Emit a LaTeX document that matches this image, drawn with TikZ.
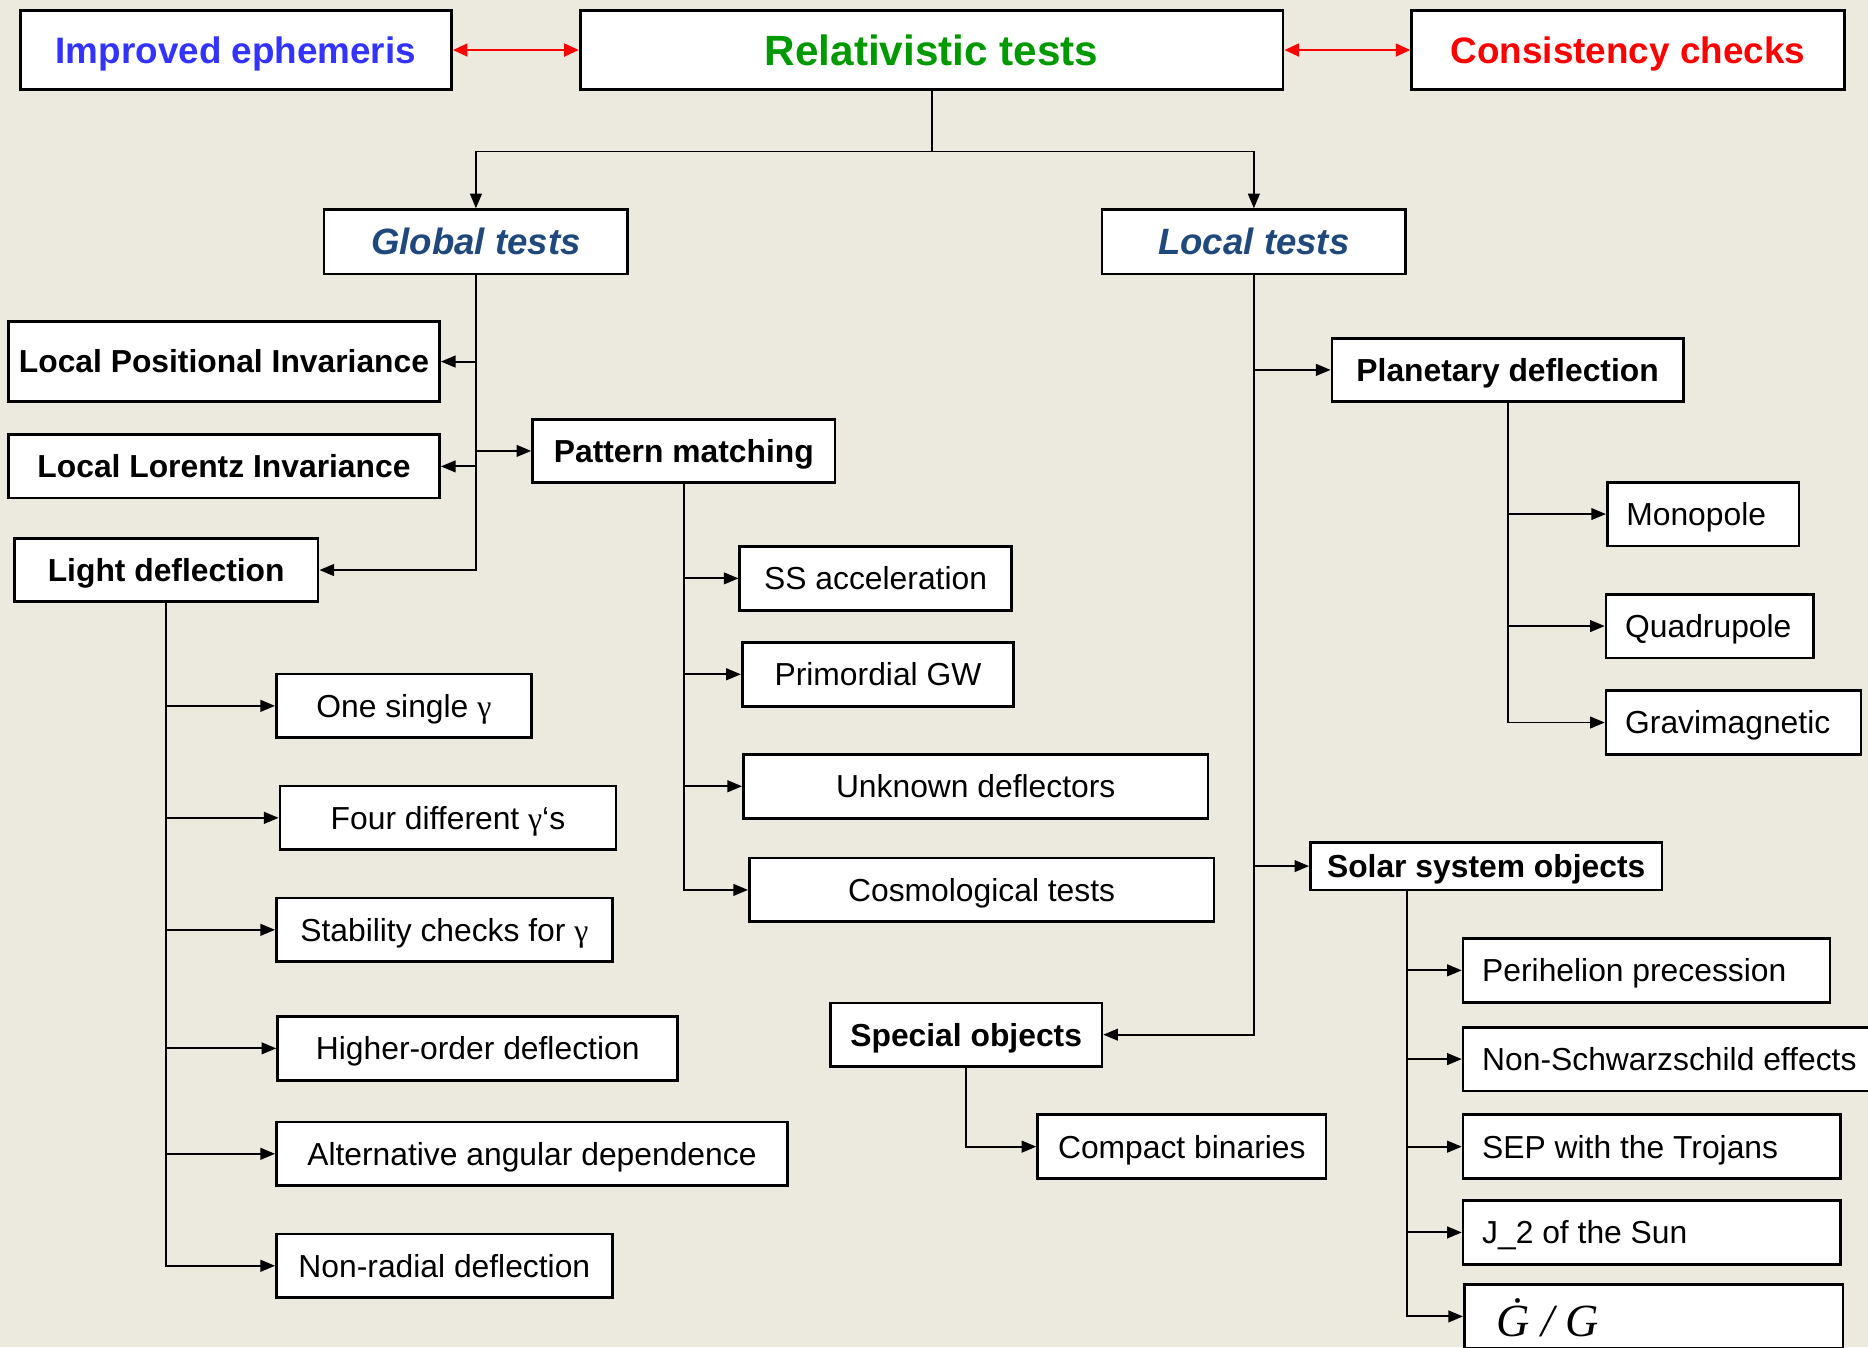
\documentclass[tikz,border=0pt]{standalone}
\usepackage{fontspec}
\setmainfont{Liberation Sans}
\newfontfamily\grk{Liberation Serif}
\usepackage{xcolor}
\usepackage{tikz}
\usetikzlibrary{arrows.meta}
\definecolor{paper}{RGB}{236,234,223}
\definecolor{ephblue}{RGB}{51,51,255}
\definecolor{relgreen}{RGB}{0,153,0}
\definecolor{chkred}{RGB}{255,0,0}
\definecolor{testblue}{RGB}{31,73,125}

\begin{document}
\begin{tikzpicture}[x=0.02cm, y=-0.02cm,
    box/.style={draw, line width=1.3pt, fill=white, inner sep=0pt,
        minimum height=1.07cm, text height=10.9pt, text depth=0pt},
    headbox/.style={box, minimum height=1.32cm, text height=12.6pt,
        font=\fontsize{17.6}{20}\selectfont\bfseries},
    testbox/.style={box, minimum height=1.08cm, text=testblue, text height=12.5pt,
        font=\fontsize{17.5}{20}\selectfont\bfseries\itshape},
    midbox/.style={box, font=\fontsize{15.2}{18}\selectfont\bfseries},
    leaf/.style={box, font=\fontsize{15.2}{18}\selectfont},
    arr/.style={line width=0.9pt, -{Triangle[length=7pt,width=5.6pt]}},
    redarr/.style={chkred, line width=1.4pt,
        {Triangle[length=7pt,width=6pt]}-{Triangle[length=7pt,width=6pt]}}]
    \useasboundingbox (0,0) rectangle (1568,1131);
    \fill[paper] (0,0) rectangle (1568,1131);

    % Top row
    \node[headbox, minimum width=7.24cm, text=ephblue] (ephem) at (198,42) {Improved ephemeris};
    \node[headbox, minimum width=11.8cm, text=relgreen, text height=14.5pt,
        font=\fontsize{20.2}{24}\selectfont\bfseries] (rel) at (782,42) {Relativistic tests};
    \node[headbox, minimum width=7.26cm, text=chkred] (cons) at (1366.5,42) {Consistency checks};

    % Two kinds of tests
    \node[testbox, minimum width=5.1cm] (global) at (399.5,203) {Global tests};
    \node[testbox, minimum width=5.1cm] (local) at (1052.5,203) {Local tests};

    % Bold sub-headings
    \foreach \nm/\cx/\cy/\w/\h/\txt in {
        lpi/188/303.5/7.24/1.34/{Local Positional Invariance},
        lli/188/391.5/7.24/1.06/{Local Lorentz Invariance},
        light/139.5/478.5/5.1/1.06/{Light deflection},
        pattern/574/378.5/5.08/1.06/{Pattern matching},
        planet/1265.5/310.5/5.9/1.06/{Planetary deflection},
        solar/1247.5/727/5.9/0.8/{Solar system objects},
        special/811/868.5/4.56/1.06/{Special objects}%
    } {
        \node[midbox, minimum width=\w cm, minimum height=\h cm] (\nm) at (\cx,\cy) {\txt};
    }

    % Centred leaves
    \foreach \nm/\cx/\cy/\w/\txt in {
        ssacc/735/485.5/4.56/{SS acceleration},
        primgw/737/566/4.56/{Primordial GW},
        unkn/819/660/7.8/{Unknown deflectors},
        cosmo/824/747/7.8/{Cosmological tests},
        one/339/592.5/4.28/{One single {\grk γ}},
        four/376/686.5/5.64/{Four different {\grk γ}‘s},
        stab/373/780.5/5.64/{Stability checks for {\grk γ}},
        higher/401/880/6.72/{Higher-order deflection},
        alt/446.5/968.5/8.58/{Alternative angular dependence},
        nonrad/373/1062.5/5.64/{Non-radial deflection},
        compact/992/962.5/4.84/{Compact binaries}%
    } {
        \node[leaf, minimum width=\w cm] (\nm) at (\cx,\cy) {\txt};
    }

    % Left-aligned leaves
    \foreach \nm/\lx/\cy/\tw/\txt in {
        mono/1348/431.5/2.58/{Monopole},
        quad/1347/525.5/2.84/{Quadrupole},
        gravi/1347/606.5/3.64/{Gravimagnetic},
        peri/1227/814.5/5.52/{Perihelion precession},
        nonsch/1227/889/6.42/{Non-Schwarzschild effects},
        sep/1227/962.5/5.70/{SEP with the Trojans},
        jtwo/1227/1034.5/5.70/{J\_2 of the Sun}%
    } {
        \node[leaf, anchor=west, inner xsep=0.32cm] (\nm) at (\lx,\cy) {\makebox[\tw cm][l]{\txt}};
    }
    \node[leaf, anchor=west, inner xsep=0.54cm, minimum height=1.08cm, text height=19.3pt,
        font=\fontsize{22}{26}\selectfont\grk\itshape] (gdot) at (1228,1105) {\makebox[5.28cm][l]{Ġ / G}};

    % Links of the top row
    \draw[redarr] (ephem.east) -- (rel.west);
    \draw[redarr] (rel.east) -- (cons.west);
    \draw[line width=0.9pt] (rel.south) -- ++(0,51) coordinate (split);
    \draw[arr] (split) -| (global.north);
    \draw[arr] (split) -| (local.north);

    % Global tests
    \draw[arr] (global.south) |- (light.east);
    \foreach \nm in {lpi, lli}
        \draw[arr] (global.south |- \nm.east) -- (\nm.east);
    \draw[arr] (global.south |- pattern.west) -- (pattern.west);

    % Pattern matching
    \draw[arr] (pattern.south) |- (cosmo.west);
    \foreach \nm in {ssacc, primgw, unkn}
        \draw[arr] (pattern.south |- \nm.west) -- (\nm.west);

    % Light deflection
    \draw[arr] (light.south) |- (nonrad.west);
    \foreach \nm in {one, four, stab, higher, alt}
        \draw[arr] (light.south |- \nm.west) -- (\nm.west);

    % Local tests
    \draw[arr] (local.south) |- (special.east);
    \foreach \nm in {planet, solar}
        \draw[arr] (local.south |- \nm.west) -- (\nm.west);

    % Planetary deflection
    \draw[arr] (planet.south) |- (gravi.west);
    \foreach \nm in {mono, quad}
        \draw[arr] (planet.south |- \nm.west) -- (\nm.west);

    % Solar system objects
    \coordinate (sroot) at ([xshift=-1.33cm]solar.south);
    \draw[arr] (sroot) |- (gdot.west);
    \foreach \nm in {peri, nonsch, sep, jtwo}
        \draw[arr] (sroot |- \nm.west) -- (\nm.west);

    % Special objects
    \draw[arr] (special.south) |- (compact.west);
\end{tikzpicture}
\end{document}
